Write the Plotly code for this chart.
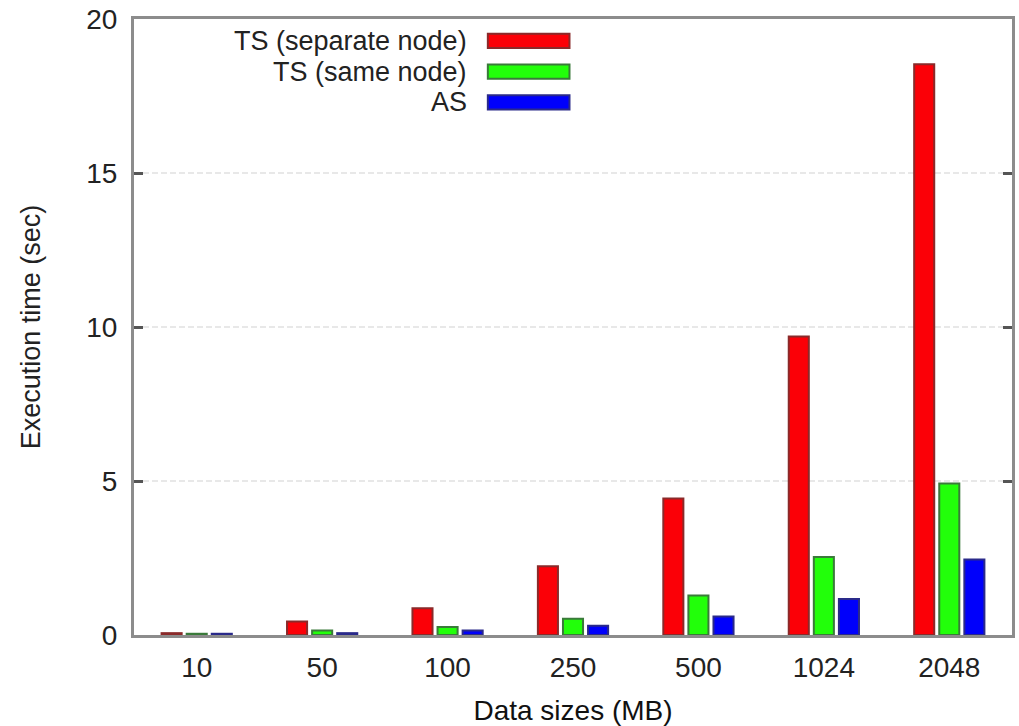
import plotly.graph_objects as go

# Data sizes (MB) and execution times (sec)
sizes = ["10", "50", "100", "250", "500", "1024", "2048"]
ts_separate = [0.06, 0.44, 0.87, 2.23, 4.43, 9.69, 18.53]
ts_same = [0.04, 0.15, 0.26, 0.53, 1.28, 2.53, 4.92]
as_times = [0.04, 0.06, 0.15, 0.30, 0.60, 1.17, 2.45]

series_names = ["TS (separate node)", "TS (same node)", "AS"]
series_values = [ts_separate, ts_same, as_times]
fill_colors = ["#fb0007", "#22ff0a", "#0000fb"]
edge_colors = ["#8a2a2a", "#3a7a3a", "#2a2a8a"]

y_ticks = [0, 5, 10, 15, 20]
FONT = "Liberation Sans, Arial, sans-serif"

fig = go.Figure()
for name, vals, fc, ec in zip(series_names, series_values, fill_colors, edge_colors):
    fig.add_trace(go.Bar(
        x=sizes, y=vals, name=name,
        marker=dict(color=fc, line=dict(color=ec, width=2)),
        showlegend=False,
    ))

# Key in the upper-left: labels right-aligned, colour swatch to the right
key_text_x = 0.381
key_sw_x0, key_sw_x1 = 0.403, 0.496
key_y0, key_dy, key_h = 0.9646, 0.050, 0.0115
for i, (name, fc, ec) in enumerate(zip(series_names, fill_colors, edge_colors)):
    yc = key_y0 - i * key_dy
    fig.add_annotation(
        x=key_text_x, y=yc, xref="paper", yref="paper", text=name,
        showarrow=False, xanchor="right", yanchor="middle",
        font=dict(family=FONT, size=27, color="#222222"),
    )
    fig.add_shape(
        type="rect", xref="paper", yref="paper",
        x0=key_sw_x0, x1=key_sw_x1, y0=yc - key_h, y1=yc + key_h,
        fillcolor=fc, line=dict(color=ec, width=2),
    )

fig.update_layout(
    width=1019, height=726,
    margin=dict(l=134, r=4, t=16, b=89),
    paper_bgcolor="white", plot_bgcolor="white",
    barmode="group", bargap=0.4, bargroupgap=0.2,
    font=dict(family=FONT, size=28, color="#222222"),
)
fig.update_xaxes(
    type="category", range=[-0.5, 6.5],
    showline=True, linecolor="#8c8c8c", linewidth=3, mirror=True,
    ticks="", showgrid=False,
    ticklabelstandoff=5,
    tickfont=dict(family=FONT, size=28, color="#222222"),
    title=dict(text="Data sizes (MB)", font=dict(family=FONT, size=28, color="#111111"), standoff=20),
)
fig.update_yaxes(
    range=[0, 20], tickvals=y_ticks, ticktext=[str(t) for t in y_ticks],
    showline=True, linecolor="#8c8c8c", linewidth=3, mirror="allticks",
    ticks="inside", ticklen=9, tickwidth=3, tickcolor="#555555",
    showgrid=True, gridcolor="#e8e8e8", gridwidth=2, griddash="6px,3px",
    zeroline=False,
    ticklabelstandoff=8,
    tickfont=dict(family=FONT, size=28, color="#222222"),
    title=dict(text="Execution time (sec)", font=dict(family=FONT, size=27, color="#222222"), standoff=38),
)

fig.write_html("out.html")
